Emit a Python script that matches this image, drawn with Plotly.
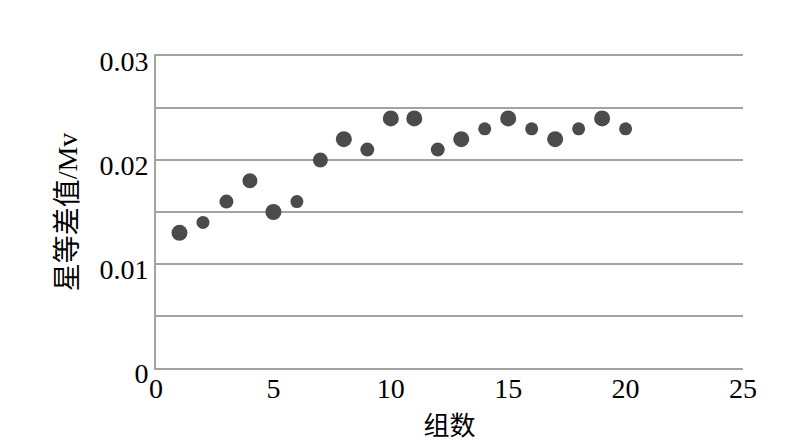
import plotly.graph_objects as go

groups = list(range(1, 21))
mag_diff = [0.013, 0.014, 0.016, 0.018, 0.015, 0.016, 0.020, 0.022, 0.021, 0.024,
            0.024, 0.021, 0.022, 0.023, 0.024, 0.023, 0.022, 0.023, 0.024, 0.023]
y_tickvals = [0, 0.005, 0.01, 0.015, 0.02, 0.025, 0.03]
y_ticktext = ["0", "", "0.01", "", "0.02", "", "0.03"]
x_tickvals = [0, 5, 10, 15, 20, 25]

marker_sizes = [16, 13, 14, 15, 16, 13, 15, 16, 14, 16, 16, 14, 16, 13, 16, 13, 16, 13, 16, 13]

font_fam = "Liberation Serif, Times New Roman, Noto Sans CJK SC, serif"
grid_col = "#a3a3a3"

fig = go.Figure()
fig.add_trace(go.Scatter(
    x=groups, y=mag_diff, mode="markers",
    marker=dict(color="#4b4b4b", size=marker_sizes, opacity=1, line=dict(width=0)),
    showlegend=False,
))

fig.update_layout(
    width=800, height=448,
    margin=dict(l=148, r=65, t=48, b=88),
    paper_bgcolor="white", plot_bgcolor="white",
    font=dict(family=font_fam, size=28, color="black"),
)
fig.update_xaxes(
    range=[0, 25], tickvals=x_tickvals, showgrid=False, zeroline=False,
    showline=True, mirror=True, linecolor=grid_col, linewidth=2,
    ticks="", tickfont=dict(size=28, family=font_fam),
    ticklabelstandoff=-6,
    title=dict(text="组数", font=dict(size=26, family=font_fam), standoff=14),
)
fig.update_yaxes(
    range=[0, 0.03], tickvals=y_tickvals, ticktext=y_ticktext,
    showgrid=True, gridcolor=grid_col, gridwidth=2,
    zeroline=False, showline=True, linecolor=grid_col, linewidth=2,
    ticks="", tickfont=dict(size=28, family=font_fam),
    ticklabelshift=5,
    title=dict(text="星等差值/Mv", font=dict(size=28, family=font_fam), standoff=14),
)

fig.write_html("out.html")
